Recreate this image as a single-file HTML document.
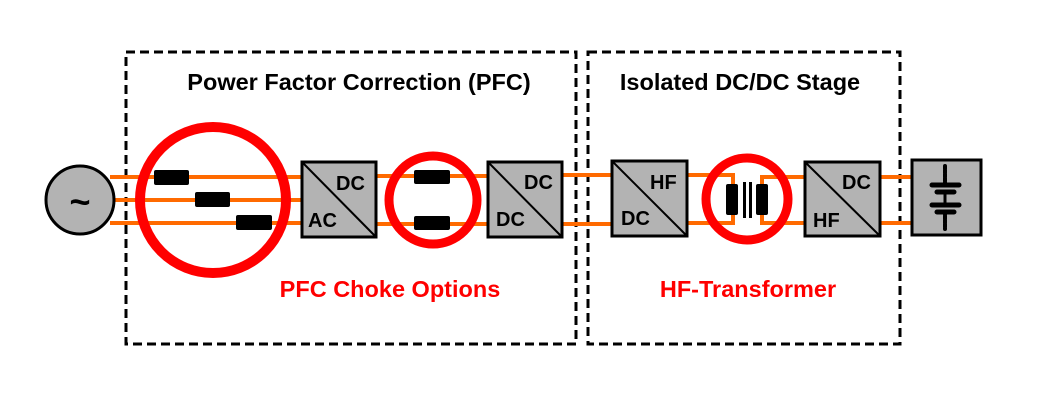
<!DOCTYPE html>
<html><head><meta charset="utf-8"><style>
html,body{margin:0;padding:0;background:#fff;}
svg{display:block;font-family:"Liberation Sans",Arial,sans-serif;font-weight:bold;}
</style></head><body>
<svg width="1047" height="403" viewBox="0 0 1047 403" xmlns="http://www.w3.org/2000/svg">
<rect width="1047" height="403" fill="#fff"/>
<rect x="126" y="52" width="450" height="292" fill="none" stroke="#000" stroke-width="3" stroke-dasharray="9,5"/>
<rect x="588" y="52" width="312" height="292" fill="none" stroke="#000" stroke-width="3" stroke-dasharray="9,5"/>
<g stroke="#ff6a00" stroke-width="4" fill="none">
<line x1="110" y1="177" x2="302" y2="177"/>
<line x1="113" y1="200" x2="302" y2="200"/>
<line x1="110" y1="223" x2="302" y2="223"/>
<line x1="376" y1="176" x2="488" y2="176"/>
<line x1="376" y1="224" x2="488" y2="224"/>
<line x1="562" y1="175" x2="612" y2="175"/>
<line x1="562" y1="224" x2="612" y2="224"/>
<polyline points="687,175 733,175 733,223 687,223"/>
<polyline points="805,177 762,177 762,223 805,223"/>
<line x1="880" y1="177" x2="911" y2="177"/>
<line x1="880" y1="223" x2="911" y2="223"/>
</g>
<circle cx="80" cy="200" r="34" fill="#b3b3b3" stroke="#000" stroke-width="3"/>
<text x="80" y="214" font-size="36" text-anchor="middle">~</text>
<g fill="#000">
<rect x="154" y="170" width="35" height="15" rx="2"/>
<rect x="195" y="192" width="35" height="15" rx="2"/>
<rect x="236" y="215" width="36" height="15" rx="2"/>
<rect x="414" y="170" width="36" height="14" rx="2"/>
<rect x="414" y="216" width="36" height="14" rx="2"/>
</g>
<circle cx="213" cy="200" r="73" fill="none" stroke="#ff0000" stroke-width="10"/>
<circle cx="433" cy="200" r="44" fill="none" stroke="#ff0000" stroke-width="9"/>
<circle cx="747" cy="199" r="41" fill="none" stroke="#ff0000" stroke-width="9"/>
<g fill="#000">
<rect x="726" y="184" width="12" height="31" rx="2"/>
<rect x="756" y="184" width="12" height="31" rx="2"/>
<rect x="743" y="182" width="3" height="36"/>
<rect x="749" y="182" width="3" height="36"/>
</g>
<g font-size="20">
<rect x="302" y="162" width="74" height="75" fill="#b3b3b3" stroke="#000" stroke-width="3"/>
<line x1="302" y1="162" x2="376" y2="237" stroke="#000" stroke-width="2"/>
<text x="336" y="190">DC</text><text x="308" y="227">AC</text>
<rect x="488" y="162" width="74" height="75" fill="#b3b3b3" stroke="#000" stroke-width="3"/>
<line x1="488" y1="162" x2="562" y2="237" stroke="#000" stroke-width="2"/>
<text x="524" y="189">DC</text><text x="496" y="226">DC</text>
<rect x="612" y="161" width="75" height="75" fill="#b3b3b3" stroke="#000" stroke-width="3"/>
<line x1="612" y1="161" x2="687" y2="236" stroke="#000" stroke-width="2"/>
<text x="650" y="189">HF</text><text x="621" y="225">DC</text>
<rect x="805" y="162" width="75" height="74" fill="#b3b3b3" stroke="#000" stroke-width="3"/>
<line x1="805" y1="162" x2="880" y2="236" stroke="#000" stroke-width="2"/>
<text x="842" y="189">DC</text><text x="813" y="227">HF</text>
</g>
<rect x="912" y="160" width="69" height="75" fill="#b3b3b3" stroke="#000" stroke-width="3"/>
<g stroke="#000" stroke-linecap="round">
<line x1="945" y1="166" x2="945" y2="186" stroke-width="4" stroke-dasharray="3,1"/>
<line x1="932" y1="185" x2="959" y2="185" stroke-width="5"/>
<line x1="937" y1="192" x2="954" y2="192" stroke-width="5"/>
<line x1="945" y1="192" x2="945" y2="205" stroke-width="3"/>
<line x1="932" y1="205" x2="959" y2="205" stroke-width="5"/>
<line x1="937" y1="212" x2="954" y2="212" stroke-width="5"/>
<line x1="945" y1="212" x2="945" y2="229" stroke-width="4" stroke-dasharray="3,1"/>
</g>
<text x="359" y="90" font-size="23.5" text-anchor="middle">Power Factor Correction (PFC)</text>
<text x="740" y="90" font-size="23.5" text-anchor="middle">Isolated DC/DC Stage</text>
<text x="390" y="297" font-size="23.5" text-anchor="middle" fill="#ff0000">PFC Choke Options</text>
<text x="748" y="297" font-size="23.5" text-anchor="middle" fill="#ff0000">HF-Transformer</text>
</svg>
</body></html>
